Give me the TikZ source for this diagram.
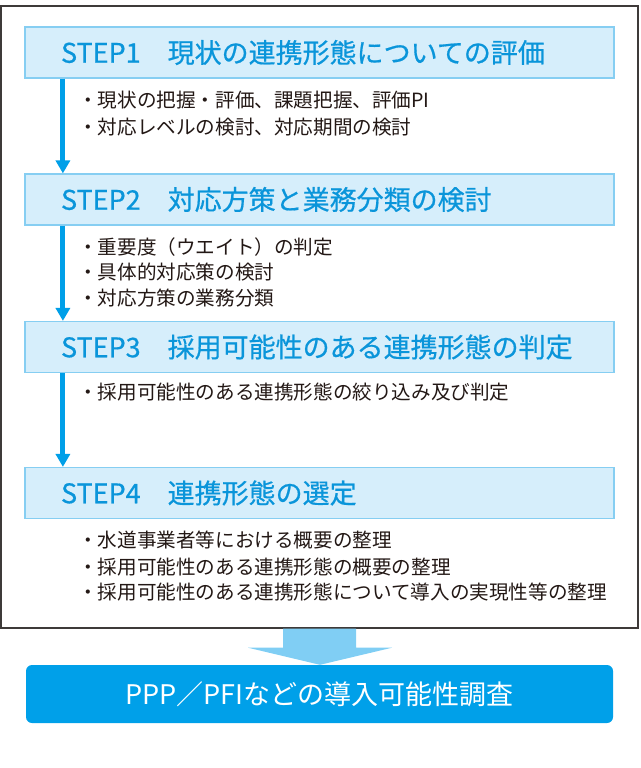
\documentclass[tikz,border=0pt]{standalone}
\usepackage{fontspec}
\setmainfont{Noto Sans CJK JP}
\newfontfamily\titlefont{Noto Sans CJK JP}[FakeBold=0.6]
\usetikzlibrary{arrows.meta,calc}
\definecolor{framecol}{HTML}{3E3A39}
\definecolor{boxfill}{HTML}{D6EEFB}
\definecolor{boxline}{HTML}{86CEF2}
\definecolor{titlecol}{HTML}{0A95DA}
\definecolor{arrowcol}{HTML}{009FE8}
\definecolor{bigarrow}{HTML}{80CEF4}
\definecolor{bottomfill}{HTML}{00A0E9}
\definecolor{textcol}{HTML}{231815}
\begin{document}
\begin{tikzpicture}[x=1pt,y=-1pt,
  frame/.style={draw=framecol,line width=1.4pt,fill=white,minimum width=637pt,minimum height=622pt,inner sep=0pt},
  stepbox/.style={draw=boxline,line width=1.2pt,fill=boxfill,minimum width=589pt,minimum height=51pt,
    text width=517pt,inner xsep=36pt,inner ysep=0pt,align=left,text=titlecol,
    font=\titlefont\fontsize{27}{30}\selectfont},
  bullet/.style={anchor=west,inner sep=0pt,text=textcol,font=\fontsize{19.6}{24}\selectfont},
  steparrow/.style={draw=arrowcol,line width=5pt,-{Triangle[width=14pt,length=13pt]}},
  bottombox/.style={fill=bottomfill,rounded corners=6pt,minimum width=587pt,minimum height=58pt,
    inner sep=0pt,text=white,font=\fontsize{27}{30}\selectfont}
]
\useasboundingbox (0,0) rectangle (640,768);
\node[frame] (frame) at (319.5,317) {};

\node[stepbox] (s1) at (319.5,52.5) {STEP1\hspace{27pt}現状の連携形態についての評価};
\node[stepbox] (s2) at (319.5,199.5) {STEP2\hspace{27pt}対応方策と業務分類の検討};
\node[stepbox] (s3) at (319.5,347) {STEP3\hspace{27pt}採用可能性のある連携形態の判定};
\node[stepbox] (s4) at (319.5,493) {STEP4\hspace{27pt}連携形態の選定};

\node[bullet] (b11) at (78,100) {・現状の把握・評価、課題把握、評価PI};
\node[bullet] (b12) at (78,127) {・対応レベルの検討、対応期間の検討};
\node[bullet] (b21) at (78,247) {・重要度（ウエイト）の判定};
\node[bullet] (b22) at (78,272) {・具体的対応策の検討};
\node[bullet] (b23) at (78,298) {・対応方策の業務分類};
\node[bullet] (b31) at (78,392) {・採用可能性のある連携形態の絞り込み及び判定};
\node[bullet] (b41) at (78,540) {・水道事業者等における概要の整理};
\node[bullet] (b42) at (78,567) {・採用可能性のある連携形態の概要の整理};
\node[bullet] (b43) at (78,592) {・採用可能性のある連携形態について導入の実現性等の整理};

\draw[steparrow] ($(s1.south west)+(38.5,0)$) -- ($(s2.north west)+(38.5,0)$);
\draw[steparrow] ($(s2.south west)+(38.5,0)$) -- ($(s3.north west)+(38.5,0)$);
\draw[steparrow] ($(s3.south west)+(38.5,0)$) -- ($(s4.north west)+(38.5,0)$);

\node[bottombox] (bottom) at (319.5,694) {PPP／PFIなどの導入可能性調査\hspace{8pt}};

\fill[bigarrow] ($(frame.south)+(-36.5,0)$) -- ($(frame.south)+(36.5,0)$) -- ($(frame.south)+(36.5,19)$)
  -- ($(frame.south)+(72.5,19)$) -- ($(bottom.north)+(0.5,0)$) -- ($(frame.south)+(-71.5,19)$)
  -- ($(frame.south)+(-36.5,19)$) -- cycle;
\end{tikzpicture}
\end{document}
